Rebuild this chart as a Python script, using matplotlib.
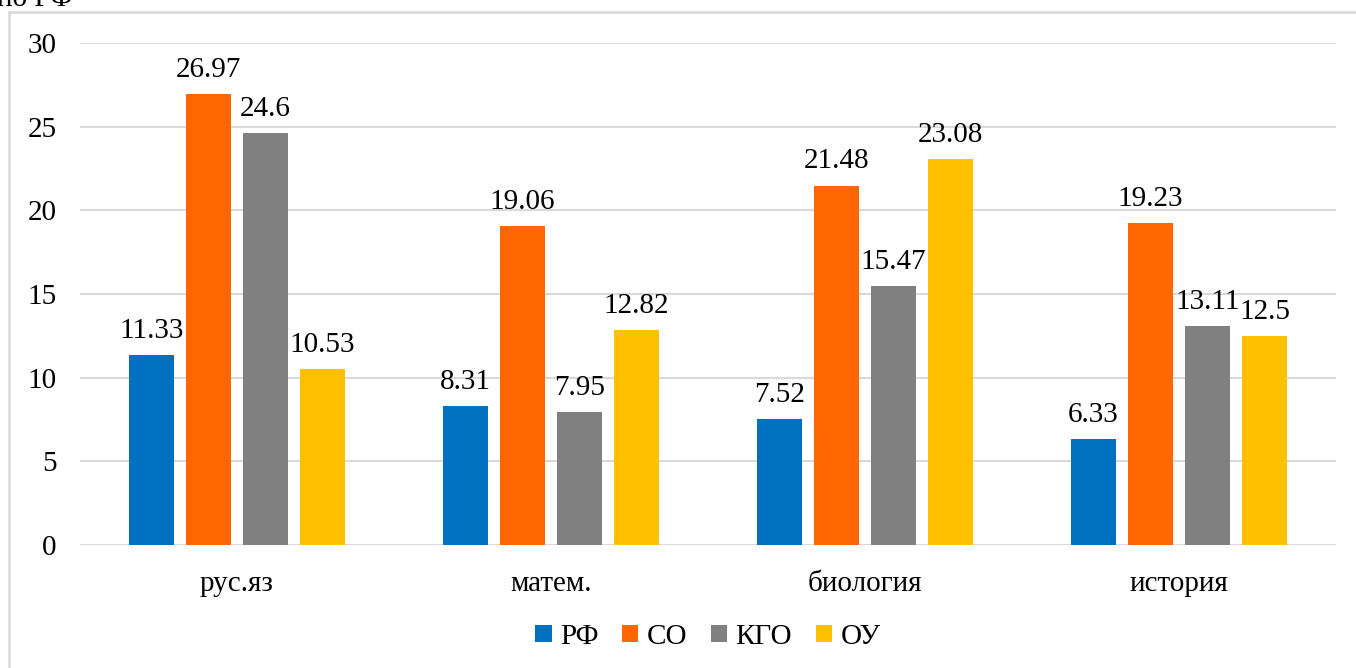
import numpy as np
import matplotlib
matplotlib.use('Agg')
import matplotlib.pyplot as plt
from matplotlib.lines import Line2D

categories = ['рус.яз', 'матем.', 'биология', 'история']
series = ['РФ', 'СО', 'КГО', 'ОУ']
rf = [11.33, 8.31, 7.52, 6.33]
so = [26.97, 19.06, 21.48, 19.23]
kgo = [24.6, 7.95, 15.47, 13.11]
ou = [10.53, 12.82, 23.08, 12.5]
colors = ['#0070C0', '#FF6600', '#808080', '#FFC000']

plt.rcParams['font.family'] = ['Liberation Serif', 'DejaVu Serif']
fs = 21

fig = plt.figure(figsize=(13.56, 6.68), dpi=100)
ax = fig.add_axes([80 / 1356, 1 - 545 / 668, 1256 / 1356, 502 / 668])

x = np.arange(len(categories))
width = 0.1433
step = 0.1815
for i, (name, vals) in enumerate(zip(series, [rf, so, kgo, ou])):
    pos = x + (i - 1.5) * step
    ax.bar(pos, vals, width, color=colors[i], label=name, zorder=2)
    for p, v in zip(pos, vals):
        ax.annotate(f'{v:g}', (p, v), xytext=(0, 8), textcoords='offset points',
                    ha='center', va='bottom', fontsize=fs)

ax.set_xlim(-0.5, 3.5)
ax.set_ylim(0, 30)
ax.set_yticks(range(0, 31, 5))
ax.set_xticks(x)
ax.set_xticklabels(categories)
ax.tick_params(axis='both', length=0, labelsize=fs)
ax.tick_params(axis='y', pad=17)
ax.tick_params(axis='x', pad=19)
ax.grid(axis='y', color='#D9D9D9', linewidth=1.5, zorder=0)
for s in ax.spines.values():
    s.set_visible(False)

ax.legend(loc='center', bbox_to_anchor=(0.5, (637 - 545) / -502), ncol=4,
          frameon=False, fontsize=fs, handlelength=0.55, handleheight=0.55,
          handletextpad=0.3, columnspacing=0.8)

# outer frame
fx = 9 / 1356
fy = 1 - 12 / 668
fig.add_artist(Line2D([fx, fx], [0, fy], color='#D9D9D9', linewidth=1.8, transform=fig.transFigure))
fig.add_artist(Line2D([fx, 1], [fy, fy], color='#D9D9D9', linewidth=1.8, transform=fig.transFigure))

fig.text(-0.002, 1 - 6 / 668, 'по РФ', fontsize=fs, ha='left', va='baseline')

fig.savefig('out.png', dpi=100)
